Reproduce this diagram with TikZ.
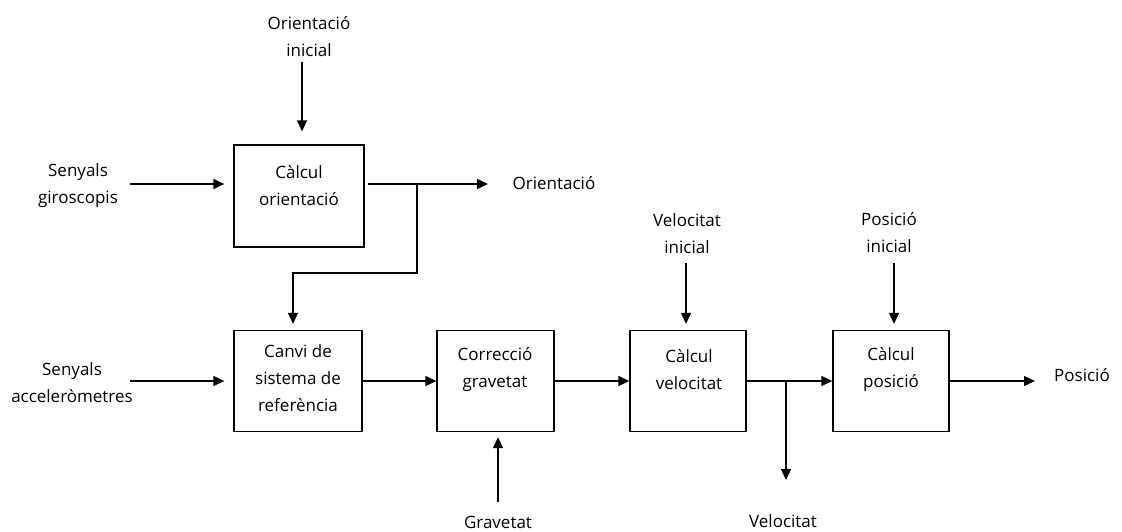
\documentclass[tikz,border=0pt]{standalone}
\usepackage{fontspec}
\setmainfont{Open Sans}
\usetikzlibrary{arrows.meta}
\begin{document}
\begin{tikzpicture}[x=1pt,y=-1pt,
  box/.style={draw, line width=1.3pt, minimum height=101pt, inner sep=0pt},
  lbl/.style={font=\fontsize{17}{27}\selectfont, align=center, inner sep=0pt},
  arr/.style={line width=1.3pt, -{Triangle[length=11pt,width=10pt]}}]
\useasboundingbox (0,0) rectangle (1122,531);

% boxes
\node[box, minimum width=130pt, minimum height=102pt] (orient) at (299,196) {};
\node[box, minimum width=128pt] (canvi) at (298,381) {};
\node[box, minimum width=117pt] (corr) at (495.5,381) {};
\node[box, minimum width=116pt] (vel) at (688,381) {};
\node[box, minimum width=116pt] (pos) at (891,381) {};

% box texts
\node[lbl] (orientT) at (299,186) {Càlcul\\orientació};
\node[lbl] (canviT) at (298,378) {Canvi de\\sistema de\\referència};
\node[lbl] (corrT) at (495,370) {Correcció\\gravetat};
\node[lbl] (velT) at (689,370) {Càlcul\\velocitat};
\node[lbl] (posT) at (891,370) {Càlcul\\posició};

% outside labels
\node[lbl] (oi) at (309,37) {Orientació\\inicial};
\node[lbl] (sg) at (78,186) {Senyals\\giroscopis};
\node[lbl] (oout) at (554,183) {Orientació};
\node[lbl] (sa) at (72,383) {Senyals\\acceleròmetres};
\node[lbl] (vi) at (687,234) {Velocitat\\inicial};
\node[lbl] (pi) at (889,233) {Posició\\inicial};
\node[lbl] (grav) at (498,522) {Gravetat};
\node[lbl] (vout) at (783,521) {Velocitat};
\node[lbl] (pout) at (1082,375) {Posició};

% free ends
\coordinate (oiA) at (302,62);
\coordinate (sgA) at (130,184);
\coordinate (oB) at (368,184);
\coordinate (oE) at (488,184);
\coordinate (br1) at (417,184);
\coordinate (br2) at (417,273);
\coordinate (saA) at (130,381);
\coordinate (viA) at (686,263);
\coordinate (piA) at (894,263);
\coordinate (gA) at (498,502);
\coordinate (vbr) at (786,381);
\coordinate (vE) at (786,480);
\coordinate (pE) at (1035,381);

% connectors
\draw[arr] (oiA) -- ([yshift=13pt]orient.north -| oiA);
\draw[arr] (sgA) -- ([xshift=-9pt]orient.west |- sgA);
\draw[arr] (oB) -- (oE);
\draw[arr] (br1) -- (br2) -| ([xshift=-5pt,yshift=6pt]canvi.north);
\draw[arr] (saA) -- ([xshift=-9pt]canvi.west);
\draw[arr] (canvi.east) -- (corr.west);
\draw[arr] (corr.east) -- (vel.west);
\draw[arr] (vel.east) -- (pos.west);
\draw[arr] (pos.east) -- (pE);
\draw[arr] (vbr) -- (vE);
\draw[arr] (viA) -- ([yshift=6pt]vel.north -| viA);
\draw[arr] (piA) -- ([yshift=6pt]pos.north -| piA);
\draw[arr] (gA) -- ([yshift=-5pt]corr.south -| gA);
\end{tikzpicture}
\end{document}
